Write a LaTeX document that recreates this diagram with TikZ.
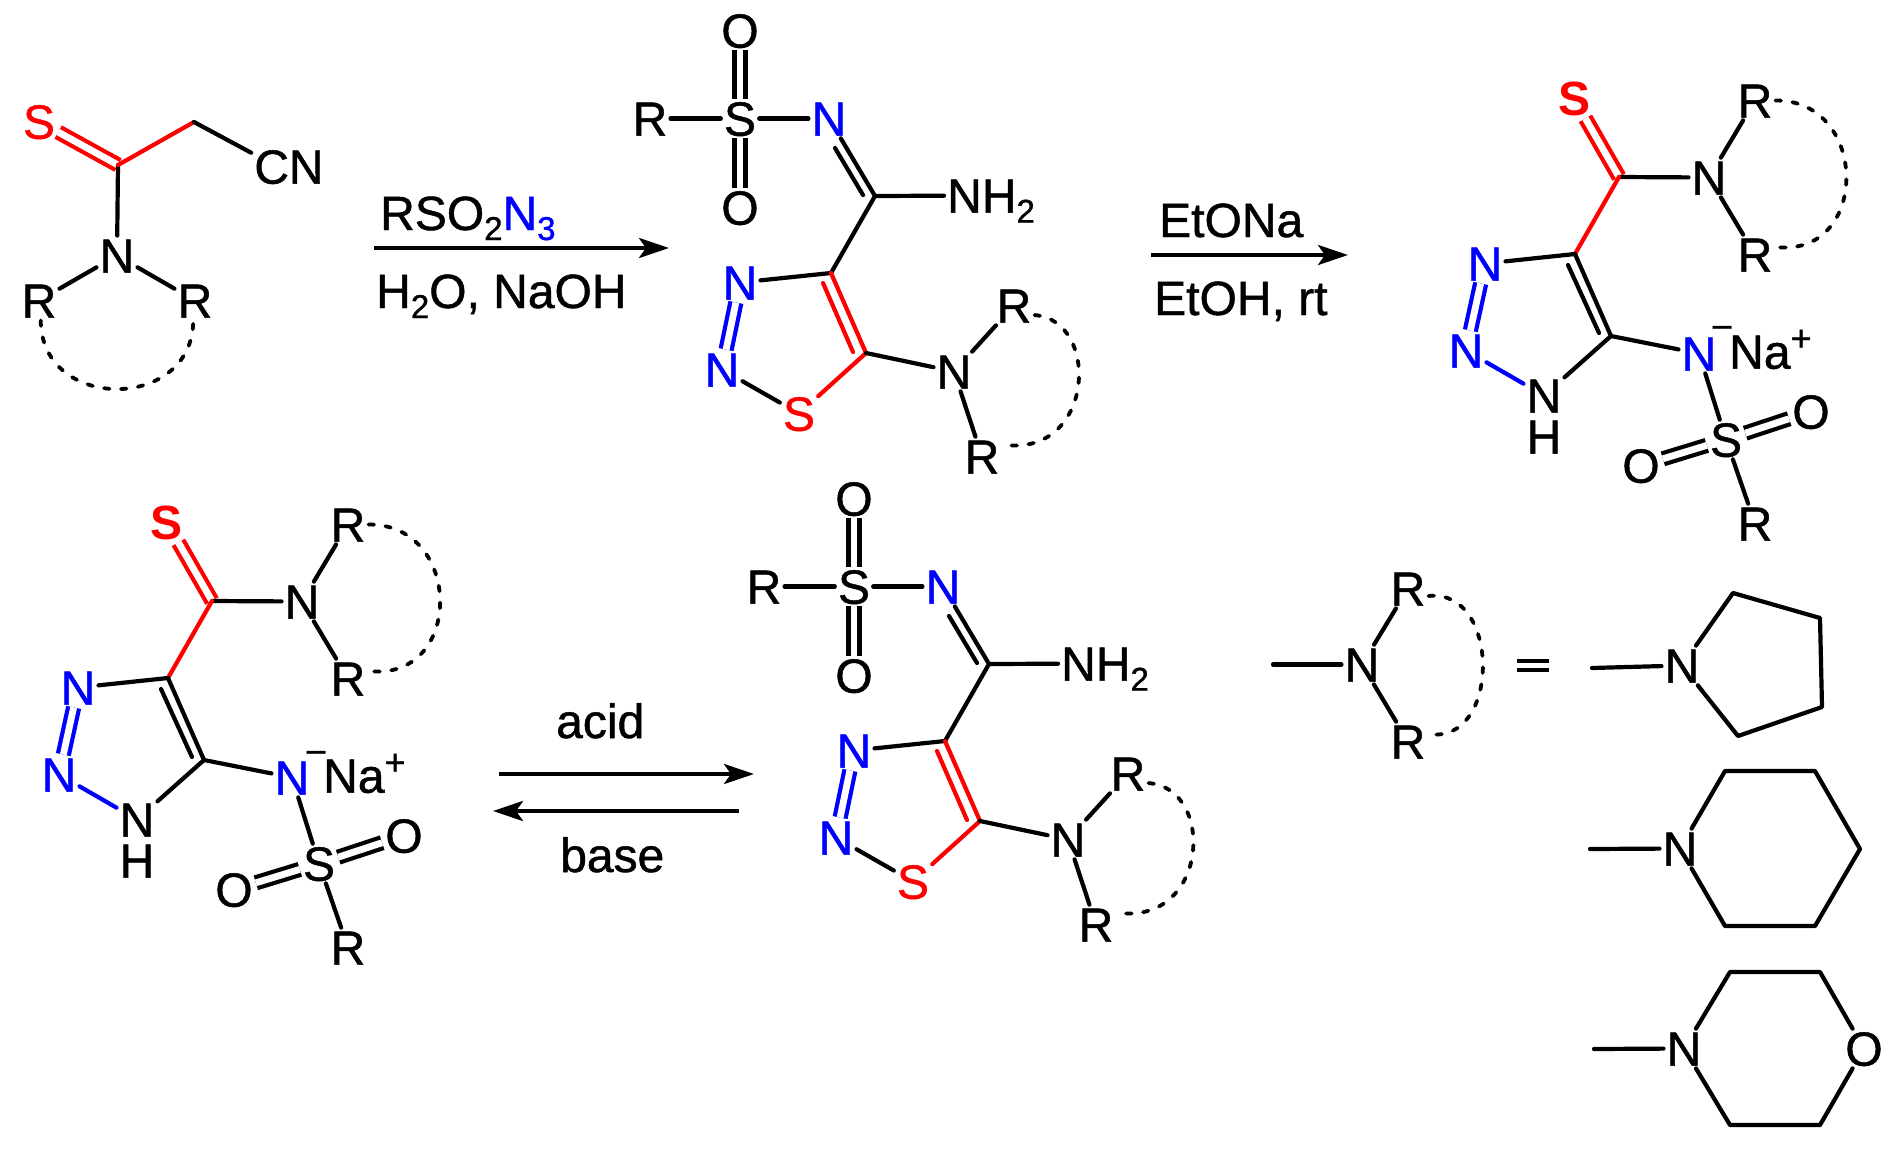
\documentclass[tikz,border=0pt]{standalone}
\usepackage{fontspec}
\setmainfont[UprightFeatures={FakeBold=1}]{Liberation Sans}
\usetikzlibrary{arrows.meta}
\newcommand{\subs}[1]{\raisebox{-10pt}{\fontsize{33}{33}\selectfont #1}}
\newcommand{\sups}[1]{\raisebox{18pt}{\fontsize{36}{36}\selectfont #1}}
\tikzset{
  atom/.style={inner xsep=3pt, inner ysep=2.5pt, yshift=1.5pt, text height=34.4pt, text depth=0pt},
  reagent/.style={inner sep=0pt, anchor=base west},
  charge/.style={inner sep=0pt, font=\fontsize{38}{38}\selectfont},
  bond/.style={line width=4.2pt, line cap=round, line join=round},
  dbond/.style={line width=4.2pt, double, double distance=6.8pt},
  ring/.style={line width=3.8pt, line cap=round, dash pattern=on 5.5pt off 11.5pt},
  rxn/.style={line width=4.2pt, -{Stealth[length=30pt, width=20pt, inset=7pt]}},
}
\begin{document}
\begin{tikzpicture}[x=1pt, y=-1pt, every node/.style={font=\fontsize{48}{48}\selectfont}]
  \path[use as bounding box] (0, 0) rectangle (1898, 1154);

  % starting material
  \node[atom, red] (S1) at (39, 123) {S};
  \coordinate (C1) at (118, 165);
  \coordinate (D1) at (194, 122);
  \node[atom] (CN1) at (289, 168) {CN};
  \node[atom] (N1) at (117, 257) {N};
  \node[atom] (R1) at (39, 302) {R};
  \node[atom] (Q1) at (195, 302) {R};
  \draw[dbond, red] (S1) to (C1);
  \draw[bond] (C1) to (N1);
  \draw[bond, red] (C1) to (D1);
  \draw[bond] (D1) to (CN1.160);
  \draw[bond] (N1) to (R1);
  \draw[bond] (N1) to (Q1);
  \draw[ring] (R1.-85) .. controls (41, 412) and (193, 412) .. (Q1.-95);

  % first arrow
  \coordinate (A1) at (374, 248);
  \coordinate (B1) at (669, 248);
  \draw[rxn] (A1) to (B1);
  \node[reagent] (T1) at (380, 230) {RSO\subs{2}{\color{blue}N\subs{3}}};
  \node[reagent] (U1) at (376, 308) {H\subs{2}O, NaOH};

  % thiadiazole, top
  \node[atom] (O2) at (740, 32) {O};
  \node[atom] (S2) at (740, 120) {S};
  \node[atom] (P2) at (740, 209) {O};
  \node[atom] (R2) at (650, 120) {R};
  \node[atom, blue] (N2) at (829, 120) {N};
  \coordinate (C2) at (875, 196);
  \coordinate (E2) at (835, 148);
  \coordinate (F2) at (863, 195);
  \node[atom, anchor=west] (H2) at (944, 197) {NH\subs{2}};
  \coordinate (K2) at (831, 273);
  \coordinate (L2) at (866, 353);
  \coordinate (I2) at (823, 283);
  \coordinate (J2) at (853, 352);
  \node[atom, blue] (V2) at (740, 284) {N};
  \node[atom, blue] (W2) at (722, 371) {N};
  \node[atom, red] (Y2) at (799, 415) {S};
  \node[atom] (Z2) at (954, 373) {N};
  \node[atom] (G2) at (1014, 307) {R};
  \node[atom] (Q2) at (982, 458) {R};
  \draw[dbond] (O2) to (S2);
  \draw[dbond] (S2) to (P2);
  \draw[dbond, blue] (V2) to (W2);
  \draw[bond] (R2) to (S2);
  \draw[bond] (S2) to (N2);
  \draw[bond] (N2) to (C2);
  \draw[bond] (E2) to (F2);
  \draw[bond] (C2) to (H2);
  \draw[bond] (C2) to (K2);
  \draw[bond] (K2) to (V2);
  \draw[bond, red] (K2) to (L2);
  \draw[bond, red] (I2) to (J2);
  \draw[bond, red] (L2) to (Y2);
  \draw[bond] (W2) to (Y2);
  \draw[bond] (L2) to (Z2);
  \draw[bond] (Z2) to (G2);
  \draw[bond] (Z2) to (Q2);
  \draw[ring] (G2.-25) .. controls (1101, 320) and (1095, 458) .. (Q2.30);

  % second arrow
  \coordinate (A2) at (1151, 255);
  \coordinate (B2) at (1348, 255);
  \draw[rxn] (A2) to (B2);
  \node[reagent] (T2) at (1159, 237) {EtONa};
  \node[reagent] (U2) at (1154, 315) {EtOH, rt};

  % triazole, top
  \node[atom, red, font=\fontsize{48}{48}\selectfont\bfseries] (S3) at (1574, 100) {S};
  \coordinate (C3) at (1619, 177);
  \node[atom] (N3) at (1709, 179) {N};
  \node[atom] (G3) at (1755, 102) {R};
  \node[atom] (Q3) at (1755, 256) {R};
  \coordinate (K3) at (1575, 254);
  \coordinate (L3) at (1611, 336);
  \coordinate (I3) at (1568, 265);
  \coordinate (J3) at (1599, 333);
  \node[atom, blue] (V3) at (1485, 265) {N};
  \node[atom, blue] (W3) at (1466, 352) {N};
  \node[atom] (X3) at (1544, 397) {N};
  \node[atom] (H3) at (1544, 438) {H};
  \node[atom, blue] (Y3) at (1699, 355) {N};
  \node[charge] (M3) at (1722, 333) {−};
  \node[atom, anchor=west] (Na3) at (1726, 353) {Na\sups{+}};
  \node[atom] (Z3) at (1726, 441) {S};
  \node[atom] (O3) at (1811, 413) {O};
  \node[atom] (P3) at (1641, 467) {O};
  \node[atom] (R3) at (1755, 525) {R};
  \draw[dbond, red] (S3) to (C3);
  \draw[dbond, blue] (V3) to (W3);
  \draw[dbond] (Z3) to (O3);
  \draw[dbond] (Z3) to (P3);
  \draw[bond] (C3) to (N3);
  \draw[bond] (N3) to (G3);
  \draw[bond] (N3) to (Q3);
  \draw[bond, red] (C3) to (K3);
  \draw[bond] (K3) to (V3);
  \draw[bond] (K3) to (L3);
  \draw[bond] (I3) to (J3);
  \draw[bond, blue] (W3) to (X3);
  \draw[bond] (X3) to (L3);
  \draw[bond] (L3) to (Y3);
  \draw[bond] (Y3) to (Z3);
  \draw[bond] (Z3) to (R3);
  \draw[ring] (G3.east) .. controls (1870, 100) and (1870, 258) .. (Q3.20);

  % triazole, bottom
  \node[atom, red, font=\fontsize{48}{48}\selectfont\bfseries] (S4) at (167, 524) {S};
  \coordinate (C4) at (212, 601);
  \node[atom] (N4) at (302, 603) {N};
  \node[atom] (G4) at (348, 526) {R};
  \node[atom] (Q4) at (348, 680) {R};
  \coordinate (K4) at (168, 678);
  \coordinate (L4) at (204, 760);
  \coordinate (I4) at (161, 689);
  \coordinate (J4) at (192, 757);
  \node[atom, blue] (V4) at (78, 689) {N};
  \node[atom, blue] (W4) at (59, 776) {N};
  \node[atom] (X4) at (137, 821) {N};
  \node[atom] (H4) at (137, 862) {H};
  \node[atom, blue] (Y4) at (292, 779) {N};
  \node[charge] (M4) at (316, 758) {−};
  \node[atom, anchor=west] (Na4) at (320, 777) {Na\sups{+}};
  \node[atom] (Z4) at (319, 865) {S};
  \node[atom] (O4) at (404, 837) {O};
  \node[atom] (P4) at (234, 891) {O};
  \node[atom] (R4) at (348, 949) {R};
  \draw[dbond, red] (S4) to (C4);
  \draw[dbond, blue] (V4) to (W4);
  \draw[dbond] (Z4) to (O4);
  \draw[dbond] (Z4) to (P4);
  \draw[bond] (C4) to (N4);
  \draw[bond] (N4) to (G4);
  \draw[bond] (N4) to (Q4);
  \draw[bond, red] (C4) to (K4);
  \draw[bond] (K4) to (V4);
  \draw[bond] (K4) to (L4);
  \draw[bond] (I4) to (J4);
  \draw[bond, blue] (W4) to (X4);
  \draw[bond] (X4) to (L4);
  \draw[bond] (L4) to (Y4);
  \draw[bond] (Y4) to (Z4);
  \draw[bond] (Z4) to (R4);
  \draw[ring] (G4.east) .. controls (464, 524) and (464, 682) .. (Q4.20);

  % equilibrium arrows
  \coordinate (A3) at (499, 774);
  \coordinate (B3) at (754, 774);
  \coordinate (A4) at (739, 811);
  \coordinate (B4) at (493, 811);
  \draw[rxn] (A3) to (B3);
  \draw[rxn] (A4) to (B4);
  \node[reagent] (T3) at (556, 738) {acid};
  \node[reagent] (U3) at (560, 872) {base};

  % thiadiazole, bottom
  \node[atom] (O5) at (854, 500) {O};
  \node[atom] (S5) at (854, 588) {S};
  \node[atom] (P5) at (854, 677) {O};
  \node[atom] (R5) at (764, 588) {R};
  \node[atom, blue] (N5) at (943, 588) {N};
  \coordinate (C5) at (989, 664);
  \coordinate (E5) at (949, 616);
  \coordinate (F5) at (977, 663);
  \node[atom, anchor=west] (H5) at (1058, 665) {NH\subs{2}};
  \coordinate (K5) at (945, 741);
  \coordinate (L5) at (980, 821);
  \coordinate (I5) at (937, 751);
  \coordinate (J5) at (967, 820);
  \node[atom, blue] (V5) at (854, 752) {N};
  \node[atom, blue] (W5) at (836, 839) {N};
  \node[atom, red] (Y5) at (913, 883) {S};
  \node[atom] (Z5) at (1068, 841) {N};
  \node[atom] (G5) at (1128, 775) {R};
  \node[atom] (Q5) at (1096, 926) {R};
  \draw[dbond] (O5) to (S5);
  \draw[dbond] (S5) to (P5);
  \draw[dbond, blue] (V5) to (W5);
  \draw[bond] (R5) to (S5);
  \draw[bond] (S5) to (N5);
  \draw[bond] (N5) to (C5);
  \draw[bond] (E5) to (F5);
  \draw[bond] (C5) to (H5);
  \draw[bond] (C5) to (K5);
  \draw[bond] (K5) to (V5);
  \draw[bond, red] (K5) to (L5);
  \draw[bond, red] (I5) to (J5);
  \draw[bond, red] (L5) to (Y5);
  \draw[bond] (W5) to (Y5);
  \draw[bond] (L5) to (Z5);
  \draw[bond] (Z5) to (G5);
  \draw[bond] (Z5) to (Q5);
  \draw[ring] (G5.-25) .. controls (1216, 788) and (1209, 926) .. (Q5.30);

  % ring amines
  \coordinate (D6) at (1273, 664.5);
  \node[atom] (N6) at (1362, 666) {N};
  \node[atom] (G6) at (1408, 590) {R};
  \node[atom] (Q6) at (1408, 743) {R};
  \draw[bond] (D6) to (N6);
  \draw[bond] (N6) to (G6);
  \draw[bond] (N6) to (Q6);
  \draw[ring] (G6.-20) .. controls (1501, 588) and (1501, 745) .. (Q6.20);
  \coordinate (A6) at (1517, 661);
  \coordinate (B6) at (1549, 661);
  \coordinate (A7) at (1517, 670);
  \coordinate (B7) at (1549, 670);
  \draw[bond, line cap=butt] (A6) to (B6);
  \draw[bond, line cap=butt] (A7) to (B7);

  \coordinate (D7) at (1592, 668);
  \node[atom] (N7) at (1682, 667) {N};
  \coordinate (C7) at (1733, 593);
  \coordinate (E7) at (1820, 618);
  \coordinate (F7) at (1822, 707);
  \coordinate (G7) at (1738, 736);
  \draw[bond] (D7) to (N7);
  \draw[bond] (N7) -- (C7) -- (E7) -- (F7) -- (G7) -- (N7);

  \coordinate (D8) at (1590, 849);
  \node[atom] (N8) at (1680, 850) {N};
  \coordinate (C8) at (1725, 771);
  \coordinate (E8) at (1815, 771);
  \coordinate (F8) at (1860, 849);
  \coordinate (G8) at (1815, 926);
  \coordinate (H8) at (1725, 926);
  \draw[bond] (D8) to (N8);
  \draw[bond] (N8) -- (C8) -- (E8) -- (F8) -- (G8) -- (H8) -- (N8);

  \coordinate (D9) at (1594, 1049);
  \node[atom] (N9) at (1684, 1050) {N};
  \coordinate (C9) at (1730, 972);
  \coordinate (E9) at (1820, 972);
  \node[atom] (O9) at (1864, 1050) {O};
  \coordinate (F9) at (1820, 1125);
  \coordinate (G9) at (1730, 1125);
  \draw[bond] (D9) to (N9);
  \draw[bond] (N9) -- (C9) -- (E9) -- (O9) -- (F9) -- (G9) -- (N9);
\end{tikzpicture}
\end{document}
